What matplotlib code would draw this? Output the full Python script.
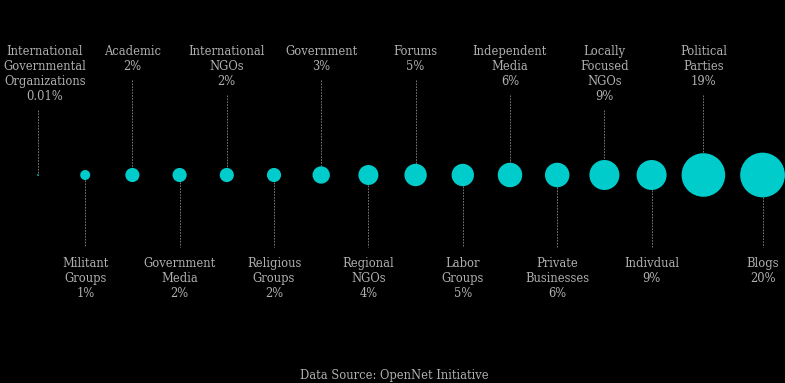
import numpy as np
import matplotlib
matplotlib.use("Agg")
import matplotlib.pyplot as plt

# share of blocked content by type of organization (OpenNet Initiative)
labels = [
    "International\nGovernmental\nOrganizations", "Militant\nGroups", "Academic",
    "Government\nMedia", "International\nNGOs", "Religious\nGroups", "Government",
    "Regional\nNGOs", "Forums", "Labor\nGroups", "Independent\nMedia",
    "Private\nBusinesses", "Locally\nFocused\nNGOs", "Indivdual", "Political\nParties",
    "Blogs",
]
values = [0.01, 1, 2, 2, 2, 2, 3, 4, 5, 5, 6, 6, 9, 9, 19, 20]
pct_text = ["0.01%", "1%", "2%", "2%", "2%", "2%", "3%", "4%", "5%", "5%",
            "6%", "6%", "9%", "9%", "19%", "20%"]

W, H, DPI = 785, 383, 100
BG = "#000000"
CIRCLE = "#00cccc"
TXT = "#b0b0b0"
LINE = "#8a8a8a"
FONT = "DejaVu Serif"

# radius in pixels ~ sqrt(value)
radii = 5 * np.sqrt(values)
xs = [38.0]
for i in range(1, len(values)):
    xs.append(xs[-1] + max(47.2, radii[i - 1] + radii[i] + 15))
cy = 175

fig = plt.figure(figsize=(W / DPI, H / DPI), dpi=DPI, facecolor=BG)
ax = fig.add_axes([0, 0, 1, 1])
ax.set_facecolor(BG)
ax.set_xlim(0, W)
ax.set_ylim(H, 0)
ax.axis("off")

sizes = np.maximum(2 * radii * 72 / DPI, 1.2) ** 2
ax.scatter(xs, [cy] * len(xs), s=sizes, color=CIRCLE, linewidths=0, zorder=3)

lh = 14.7
for i, (x, lab, p, r) in enumerate(zip(xs, labels, pct_text, radii)):
    txt = lab + "\n" + p
    n = txt.count("\n") + 1
    tx = min(max(x, 45), W - 20)  # keep labels inside the figure
    if i % 2 == 0:
        top = 45
        ax.text(tx, top, txt, ha="center", va="top", color=TXT, fontsize=8.3,
                family=FONT, linespacing=1.2)
        ax.plot([x, x], [top + n * lh + 6, cy - r], color=LINE, lw=0.6,
                ls=(0, (2, 1.5)), zorder=2)
    else:
        ax.plot([x, x], [cy + r, 247], color=LINE, lw=0.6,
                ls=(0, (2, 1.5)), zorder=2)
        ax.text(tx, 257, txt, ha="center", va="top", color=TXT, fontsize=8.3,
                family=FONT, linespacing=1.2)

ax.text(W / 2 + 2, 375, "Data Source: OpenNet Initiative", ha="center",
        va="center", color=TXT, fontsize=8.3, family=FONT)

fig.savefig("out.png", dpi=DPI, facecolor=BG)
